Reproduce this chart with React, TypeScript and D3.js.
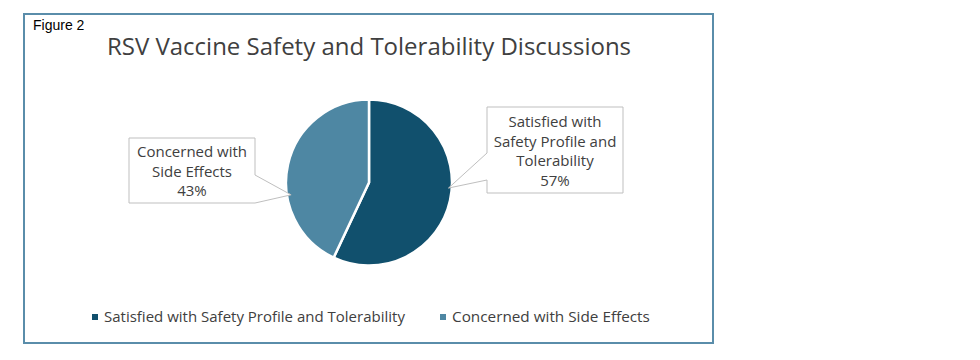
import React from "react";
import * as d3 from "d3";

const categories = ["Satisfied with Safety Profile and Tolerability", "Concerned with Side Effects"];
const values = [57, 43];
const labelLines = [
  ["Satisfied with", "Safety Profile and", "Tolerability", "57%"],
  ["Concerned with", "Side Effects", "43%"],
];
const colors = ["#11506D", "#4E87A3"];
const titleText = "RSV Vaccine Safety and Tolerability Discussions";
const figureLabel = "Figure 2";

const W = 980;
const H = 360;
const cx = 369;
const cy = 182.5;
const R = 83;
const FONT = "'Open Sans', 'DejaVu Sans', sans-serif";

// callout layout: box rect, pointer attach on box edge, tip angle (deg from top clockwise)
const callouts = [
  { x: 487, y: 107, w: 136, h: 86, side: "left", a1: 153, a2: 180, tipAngle: 94, tipR: 0.96, lineY0: 122 },
  { x: 129, y: 138, w: 126, h: 65, side: "right", a1: 175, a2: 203, tipAngle: 261, tipR: 0.95, lineY0: 152 },
];

export default function App() {
  const pie = d3.pie<number>().sort(null).value((d) => d);
  const arcs = pie(values);
  const arc = d3.arc<d3.PieArcDatum<number>>().innerRadius(0).outerRadius(R);

  return (
    <svg width={W} height={H} style={{ position: "absolute", left: 0, top: 0, background: "#fff" }}>
      <rect x={24} y={14} width={689} height={329} fill="#fff" stroke="#5A8DAA" strokeWidth={2} />
      <text x={33} y={30} fontFamily="'Liberation Sans', Arial, sans-serif" fontSize={14} fill="#000">
        {figureLabel}
      </text>
      <text x={369} y={55} textAnchor="middle" fontFamily={FONT} fontSize={24} fill="#404040">
        {titleText}
      </text>
      <g transform={`translate(${cx},${cy})`}>
        {arcs.map((a, i) => (
          <path key={i} d={arc(a) || ""} fill={colors[i]} stroke="#fff" strokeWidth={2.5} />
        ))}
      </g>
      {callouts.map((c, i) => {
        const ang = (c.tipAngle * Math.PI) / 180;
        const tx = cx + Math.sin(ang) * R * c.tipR;
        const ty = cy - Math.cos(ang) * R * c.tipR;
        const x0 = c.x;
        const x1 = c.x + c.w;
        const y0 = c.y;
        const y1 = c.y + c.h;
        let d = "";
        if (c.side === "left") {
          d = `M${x0},${y0} L${x1},${y0} L${x1},${y1} L${x0},${y1} L${x0},${c.a2} L${tx},${ty} L${x0},${c.a1} Z`;
        } else {
          d = `M${x0},${y0} L${x1},${y0} L${x1},${c.a1} L${tx},${ty} L${x1},${c.a2} L${x1},${y1} L${x0},${y1} Z`;
        }
        const lines = labelLines[i];
        return (
          <g key={i}>
            <path d={d} fill="#fff" stroke="#BFBFBF" strokeWidth={1} />
            {lines.map((l, j) => (
              <text
                key={j}
                x={(x0 + x1) / 2}
                y={c.lineY0 + j * 19.5}
                dy="0.35em"
                textAnchor="middle"
                fontFamily={FONT}
                fontSize={15}
                fill="#404040"
              >
                {l}
              </text>
            ))}
          </g>
        );
      })}
      <g>
        <rect x={92} y={314} width={6} height={6} fill={colors[0]} />
        <text x={104} y={317} dy="0.35em" fontFamily={FONT} fontSize={15} fill="#404040">
          {categories[0]}
        </text>
        <rect x={440} y={314} width={6} height={6} fill={colors[1]} />
        <text x={452} y={317} dy="0.35em" fontFamily={FONT} fontSize={15.3} fill="#404040">
          {categories[1]}
        </text>
      </g>
    </svg>
  );
}
